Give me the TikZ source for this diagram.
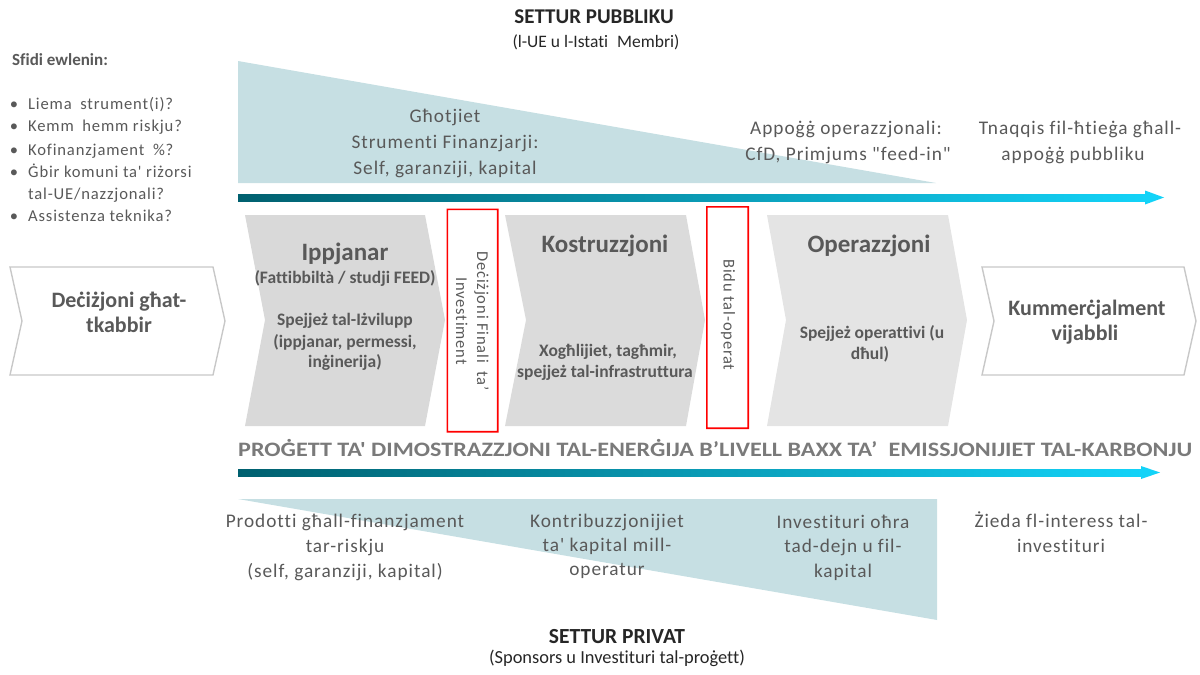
\documentclass[tikz,border=0pt]{standalone}
\usepackage{fontspec}
\setmainfont{Carlito}[Ligatures={TeXOff,NoCommon}]
\newfontfamily\spcfont{Carlito}[LetterSpace=5,Ligatures={TeXOff,NoCommon}]
\usepackage{graphicx}
\definecolor{txt}{HTML}{595959}
\definecolor{ttl}{HTML}{262626}
\definecolor{head}{HTML}{7A7A7A}
\definecolor{tri}{HTML}{C6DFE3}
\definecolor{chA}{HTML}{D9D9D9}
\definecolor{chB}{HTML}{DBDBDB}
\definecolor{chC}{HTML}{E4E4E4}
\definecolor{wbd}{HTML}{C8C8C8}
\definecolor{arrL}{HTML}{00606F}
\definecolor{arrR}{HTML}{13D3F8}
\definecolor{redb}{HTML}{FF0000}
\newcommand\myfBody{\fontsize{19.3}{22}\spcfont}
\newcommand\myfBul{\fontsize{16.6}{20}\spcfont}
\newcommand\myfTit{\fontsize{25}{30}\bfseries}
\newcommand\myfChev{\fontsize{17.5}{21}\bfseries}
\newcommand\myfWhite{\fontsize{22}{26}\bfseries}
\newcommand\myfRed{\fontsize{16.5}{21}\spcfont}
\begin{document}
\begin{tikzpicture}[x=1pt,y=-1pt,
  lbl/.style={inner sep=0, anchor=base, text=txt},
  lblw/.style={inner sep=0, anchor=base west, text=txt},
  redframe/.style={fill=redb, even odd rule},
  whitechev/.style={draw=wbd, line width=1.4pt, fill=white}]
\useasboundingbox (0,0) rectangle (1200,675);
% triangles
\fill[tri] (238,61) -- (936,183) -- (238,183) -- cycle;
\fill[tri] (238,499) -- (937,499) -- (937,620) -- cycle;
% arrows
\shade[left color=arrL, right color=arrR] (238,194) rectangle (1146,201);
\fill[arrR] (1145,190.5) -- (1164,197.5) -- (1145,204.5) -- cycle;
\shade[left color=arrL, right color=arrR] (238,469) rectangle (1142,476);
\fill[arrR] (1141,466) -- (1160,472.5) -- (1141,479) -- cycle;
% chevrons
\draw[whitechev] (10,267) -- (213,267) -- (225,321) -- (213,375) -- (10,375) -- (22,321) -- cycle;
\fill[chA] (245,215) -- (425,215) -- (445,320) -- (425,426) -- (245,426) -- (265,320) -- cycle;
\fill[chB] (505,215) -- (686,215) -- (705,320) -- (686,426) -- (505,426) -- (526,320) -- cycle;
\fill[chC] (767,215) -- (948,215) -- (967,320) -- (948,426) -- (767,426) -- (786,320) -- cycle;
\draw[whitechev] (982,267) -- (1184,267) -- (1196,321) -- (1184,375) -- (982,375) -- (994,321) -- cycle;
% red boxes
\node[minimum width=50pt, minimum height=222pt, inner sep=0] (fid) at (472.5,320.5) {};
\node[minimum width=41pt, minimum height=221pt, inner sep=0] (bid) at (727.5,317.5) {};
\fill[redframe] ([shift={(-0.8,-0.8)}]fid.north west) rectangle ([shift={(0.8,0.8)}]fid.south east)
  ([shift={(0.8,0.8)}]fid.north west) rectangle ([shift={(-0.8,-0.8)}]fid.south east);
\fill[redframe] ([shift={(-0.8,-0.8)}]bid.north west) rectangle ([shift={(0.8,0.8)}]bid.south east)
  ([shift={(0.8,0.8)}]bid.north west) rectangle ([shift={(-0.8,-0.8)}]bid.south east);
\node[rotate=-90, align=center, text=txt, inner sep=0, font=\myfRed] (fidt) at (472.5,321) {Deċiżjoni Finali\hspace{4pt} ta’\\Investiment};
\node[rotate=-90, text=txt, inner sep=0, font=\myfRed] (bidt) at (728,315) {Bidu tal-operat};
% titles
\node[lbl, text=ttl, font=\fontsize{21}{24}\bfseries] (pub) at (594,23) {SETTUR PUBBLIKU};
\node[lbl, text=ttl, font=\fontsize{17.5}{20}\selectfont] (pubs) at (596,47) {(l-UE u l-Istati\hspace{5pt} Membri)};
\node[lbl, text=ttl, font=\fontsize{21.5}{24}\bfseries] (priv) at (617,643) {SETTUR PRIVAT};
\node[lbl, text=ttl, font=\fontsize{18.4}{20}\selectfont] (privs) at (617,663) {(Sponsors u Investituri tal-proġett)};
% challenges
\node[lblw, font=\fontsize{17}{19}\bfseries] (sf) at (12,65) {Sfidi ewlenin:};
\node[lbl, font=\myfBul] (b1) at (14,109) {•};
\node[lblw, font=\myfBul] (c1) at (28,109) {Liema\hspace{4pt} strument(i)?};
\node[lbl, font=\myfBul] (b2) at (14,131) {•};
\node[lblw, font=\myfBul] (c2) at (28,131) {Kemm\hspace{4pt} hemm riskju?};
\node[lbl, font=\myfBul] (b3) at (14,155) {•};
\node[lblw, font=\myfBul] (c3) at (28,155) {Kofinanzjament\hspace{4pt} \%?};
\node[lbl, font=\myfBul] (b4) at (14,177) {•};
\node[lblw, font=\myfBul] (c4) at (28,177) {Ġbir komuni ta' riżorsi};
\node[lblw, font=\myfBul] (c4b) at (28,199) {tal-UE/nazzjonali?};
\node[lbl, font=\myfBul] (b5) at (14,221) {•};
\node[lblw, font=\myfBul] (c5) at (28,221) {Assistenza teknika?};
% public texts
\node[lbl, font=\myfBody] (g1) at (445,122) {Għotjiet};
\node[lbl, font=\myfBody] (g2) at (445,148) {Strumenti Finanzjarji:};
\node[lbl, font=\myfBody] (g3) at (445,174) {Self, garanziji, kapital};
\node[lbl, font=\myfBody] (a1) at (846,134) {Appoġġ operazzjonali:};
\node[lbl, font=\myfBody] (a2) at (848,160) {CfD, Primjums "feed-in"};
\node[lbl, font=\myfBody] (n1) at (1080,134) {Tnaqqis fil-ħtieġa għall-};
\node[lbl, font=\myfBody] (n2) at (1073,160) {appoġġ pubbliku};
% chevron texts
\node[lbl, font=\myfWhite] (d1) at (119,307) {Deċiżjoni għat-};
\node[lbl, font=\myfWhite] (d2) at (119,332) {tkabbir};
\node[lbl, font=\myfTit] (ip) at (345,260) {Ippjanar};
\node[lbl, font=\myfChev] (ip1) at (345,283) {(Fattibbiltà / studji FEED)};
\node[lbl, font=\myfChev] (ip2) at (345,325) {Spejjeż tal-Iżvilupp};
\node[lbl, font=\myfChev] (ip3) at (345,347) {(ippjanar, permessi,};
\node[lbl, font=\myfChev] (ip4) at (345,367) {inġinerija)};
\node[lbl, font=\myfTit] (ko) at (605,252) {Kostruzzjoni};
\node[lbl, font=\myfChev] (ko1) at (608,356) {Xogħlijiet, tagħmir,};
\node[lbl, font=\myfChev] (ko2) at (605,377) {spejjeż tal-infrastruttura};
\node[lbl, font=\myfTit] (op) at (869,252) {Operazzjoni};
\node[lbl, font=\myfChev] (op1) at (872,338) {Spejjeż operattivi (u};
\node[lbl, font=\myfChev] (op2) at (870,359) {dħul)};
\node[lbl, font=\myfWhite] (ku1) at (1087,315) {Kummerċjalment};
\node[lbl, font=\myfWhite] (ku2) at (1085,340) {vijabbli};
% heading
\node[inner sep=0, anchor=base west, text=head, font=\fontsize{20.5}{24}\bfseries] (hd) at (238,456) {\resizebox{954pt}{\height}{PROĠETT TA' DIMOSTRAZZJONI TAL-ENERĠIJA B’LIVELL BAXX TA’\hspace{5pt} EMISSJONIJIET TAL-KARBONJU}};
% private texts
\node[lbl, font=\myfBody] (p1) at (345,527) {Prodotti għall-finanzjament};
\node[lbl, font=\myfBody] (p2) at (345,552) {tar-riskju};
\node[lbl, font=\myfBody] (p3) at (345,577) {(self, garanziji, kapital)};
\node[lbl, font=\myfBody] (k1) at (607,527) {Kontribuzzjonijiet};
\node[lbl, font=\myfBody] (k2) at (607,551) {ta' kapital mill-};
\node[lbl, font=\myfBody] (k3) at (607,575) {operatur};
\node[lbl, font=\myfBody] (i1) at (843,528) {Investituri oħra};
\node[lbl, font=\myfBody] (i2) at (843,552) {tad-dejn u fil-};
\node[lbl, font=\myfBody] (i3) at (843,577) {kapital};
\node[lbl, font=\myfBody] (z1) at (1061,527) {Żieda fl-interess tal-};
\node[lbl, font=\myfBody] (z2) at (1061,552) {investituri};
\end{tikzpicture}
\end{document}
